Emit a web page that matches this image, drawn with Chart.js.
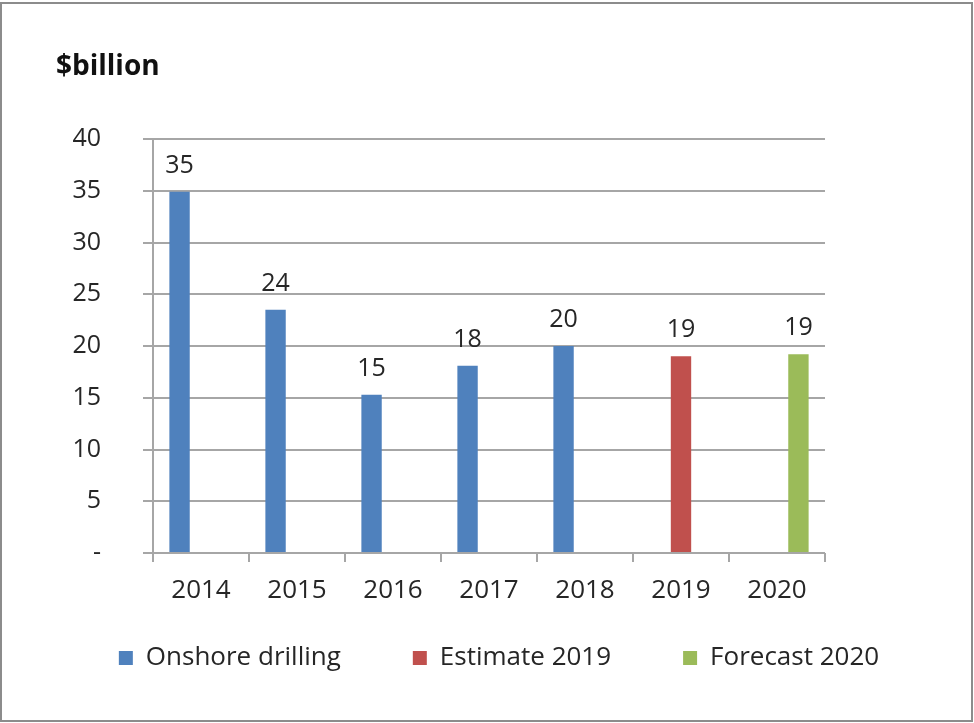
<!DOCTYPE html>
<html>
<head>
<meta charset="utf-8">
<script src="https://cdn.jsdelivr.net/npm/chart.js@4.4.1/dist/chart.umd.min.js"></script>
<style>
html, body { margin: 0; padding: 0; background: #fff; }
#caja { position: absolute; left: 0; top: 0; width: 974px; height: 723px; }
#marco { position: absolute; left: 0; top: 2px; width: 969px; height: 716px; border: 2px solid #8c8c8c; pointer-events: none; }
</style>
</head>
<body>
<div id="caja"><canvas id="chartGasto" width="974" height="723"></canvas></div>
<div id="marco"></div>
<script>
const anios = ['2014', '2015', '2016', '2017', '2018', '2019', '2020']
const onshore = [34.9, 23.5, 15.3, 18.1, 20.0, null, null]
const estimado = [null, null, null, null, null, 19.0, null]
const pronostico = [null, null, null, null, null, null, 19.2]
const etiquetasY = ['-', '5', '10', '15', '20', '25', '30', '35', '40']

const fuente = '"Open Sans", "DejaVu Sans", sans-serif'
const gris = '#a6a6a6'
const texto = '#262626'

// numeros encima de cada barra
const etiquetas = {
    id: 'etiquetas',
    afterDatasetsDraw(chart) {
        const ctx = chart.ctx
        ctx.save()
        ctx.font = '25px ' + fuente
        ctx.fillStyle = texto
        ctx.textAlign = 'center'
        ctx.textBaseline = 'middle'
        chart.data.datasets.forEach((ds, i) => {
            chart.getDatasetMeta(i).data.forEach((barra, j) => {
                const v = ds.data[j]
                if (v == null) return
                ctx.fillText(Math.round(v), barra.x, barra.y - 26)
            })
        })
        ctx.restore()
    }
}

const titulo = {
    id: 'titulo',
    afterLayout(chart) {
        // la leyenda queda mas arriba que lo que deja el padding
        chart.legend.top -= 30
        chart.legend.bottom -= 30
    },
    afterDraw(chart) {
        const ctx = chart.ctx
        ctx.save()
        ctx.font = 'bold 28px ' + fuente
        ctx.fillStyle = '#111'
        ctx.textAlign = 'left'
        ctx.textBaseline = 'middle'
        ctx.fillText('$billion', 56, 67)
        ctx.restore()
    }
}

const context = document.getElementById('chartGasto').getContext('2d')

const chartGasto = new Chart(context, {
    type: 'bar',
    data: {
        labels: anios,
        datasets: [
            { label: 'Onshore drilling', data: onshore, backgroundColor: '#4F81BD' },
            { label: 'Estimate 2019', data: estimado, backgroundColor: '#C0504D' },
            { label: 'Forecast 2020', data: pronostico, backgroundColor: '#9BBB59' }
        ]
    },
    options: {
        responsive: false,
        animation: false,
        devicePixelRatio: 1,
        datasets: { bar: { categoryPercentage: 0.67, barPercentage: 0.95 } },
        layout: { padding: { left: 24, right: 0, top: 139, bottom: 12 } },
        plugins: {
            tooltip: { enabled: false },
            legend: {
                position: 'bottom',
                labels: {
                    boxWidth: 14,
                    boxHeight: 14,
                    padding: 72,
                    color: texto,
                    font: { family: fuente, size: 26 }
                }
            }
        },
        scales: {
            x: {
                grid: { display: true, drawOnChartArea: false, drawTicks: true, tickLength: 9, color: gris, lineWidth: 2, offset: true },
                border: { display: false },
                ticks: { color: texto, padding: 13, font: { family: fuente, size: 26 } },
                afterFit: s => { s.height = 50 }
            },
            y: {
                min: 0,
                max: 40,
                ticks: {
                    stepSize: 5,
                    color: texto,
                    padding: 42,
                    font: { family: fuente, size: 25 },
                    callback: (v, i) => etiquetasY[i]
                },
                grid: { color: gris, lineWidth: 2, tickLength: 10 },
                border: { display: true, color: gris, width: 2 },
                afterFit: s => { s.width = 129 }
            },
            y2: {
                type: 'linear',
                position: 'right',
                display: true,
                grid: { display: false },
                ticks: { display: false },
                border: { display: false },
                afterFit: s => { s.width = 149 }
            }
        }
    },
    plugins: [etiquetas, titulo]
})
</script>
</body>
</html>
